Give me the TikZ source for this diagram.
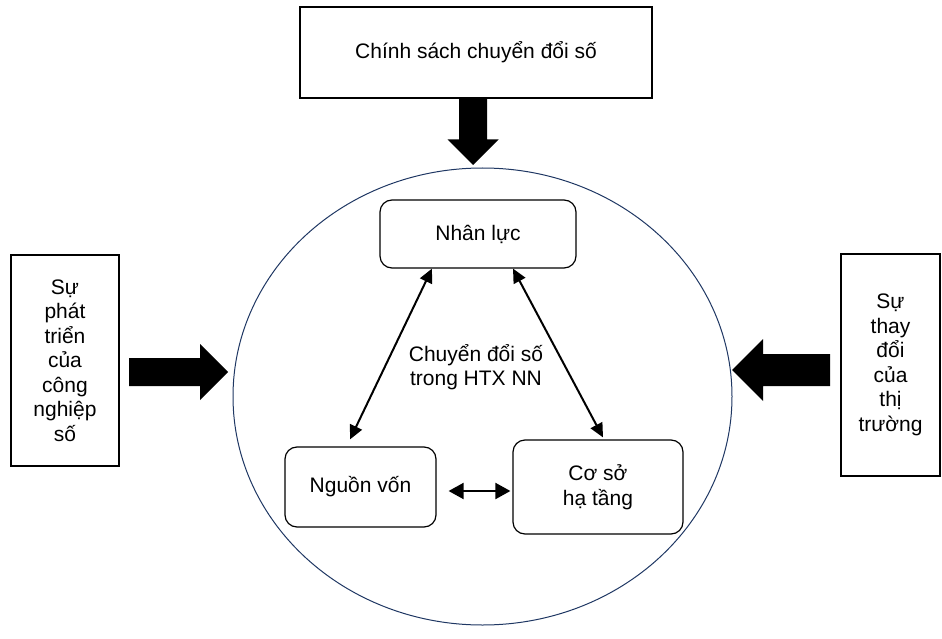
\documentclass[tikz,border=0pt]{standalone}
\usepackage{fontspec}
\setmainfont{Liberation Sans}
\usepackage{tikz}
\usetikzlibrary{positioning}
\usetikzlibrary{arrows.meta, shapes.geometric}
\definecolor{ringblue}{HTML}{1F3763}
\tikzstyle{plain box}=[draw, line width=1.2pt, align=center, inner sep=0pt]
\tikzstyle{factor box}=[draw, rounded corners=12pt, line width=1.2pt, align=center, inner sep=0pt]
\tikzstyle{link}=[{Triangle[length=14pt,width=13pt]}-{Triangle[length=14pt,width=13pt]}, line width=2pt]
\newcommand{\factornode}[3][]{
  \node [factor box, #1] (#2) {#3}
}
% tip, angle back to tail, length, half shaft, half head
\newcommand{\blockarrow}[5]{
  \begin{scope}[shift={#1}, rotate=#2]
    \fill (0,0) -- (#5,#5) -- (#5,#4) -- (#3,#4) -- (#3,-#4) -- (#5,-#4) -- (#5,-#5) -- cycle;
  \end{scope}
}

\begin{document}
\begin{tikzpicture}[x=1pt, y=-1pt, font=\fontsize{21}{24.5}\selectfont]
        \useasboundingbox (0,0) rectangle (942,639);

        \node [draw=ringblue, line width=1pt, ellipse, minimum width=499pt, minimum height=457pt] (ring) at (482.5,396.5) {};

        \node [plain box, minimum width=352pt, minimum height=91pt] (policy) at (476,52.5) {Chính sách chuyển đổi số};
        \node [plain box, minimum width=108pt, minimum height=211pt] (industry) at (65,360.5) {Sự\\phát\\triển\\của\\công\\nghiệp\\số};
        \node [plain box, minimum width=99pt, minimum height=222pt] (market) at (890.5,365) {Sự\\thay\\đổi\\của\\thị\\trường};

        \blockarrow{(473,165)}{90}{67}{14}{25.5}
        \blockarrow{(228,372)}{180}{99}{14}{28}
        \blockarrow{(732,370)}{0}{98}{16}{31}

        \factornode[minimum width=196pt, minimum height=68pt, at={(478,234)}]{staff}{Nhân lực};
        \factornode[minimum width=151pt, minimum height=80pt, at={(360.5,487)}]{funds}{Nguồn vốn};
        \factornode[minimum width=170pt, minimum height=94pt, at={(598,487)}]{infra}{Cơ sở\\hạ tầng};
        \node [align=center] (core) at (476,367) {Chuyển đổi số\\trong HTX NN};

      \draw[link] ([xshift=-46pt]staff.south) -- ([xshift=-10.5pt, yshift=7pt]funds.north);
      \draw[link] ([xshift=35pt]staff.south) -- ([xshift=5pt, yshift=2pt]infra.north);
      \draw[link, {Triangle[length=15pt,width=16pt]}-{Triangle[length=15pt,width=16pt]}] ([xshift=12pt, yshift=-4pt]funds.east) -- ([xshift=-2pt, yshift=-4pt]infra.west);

      \end{tikzpicture}
\end{document}
